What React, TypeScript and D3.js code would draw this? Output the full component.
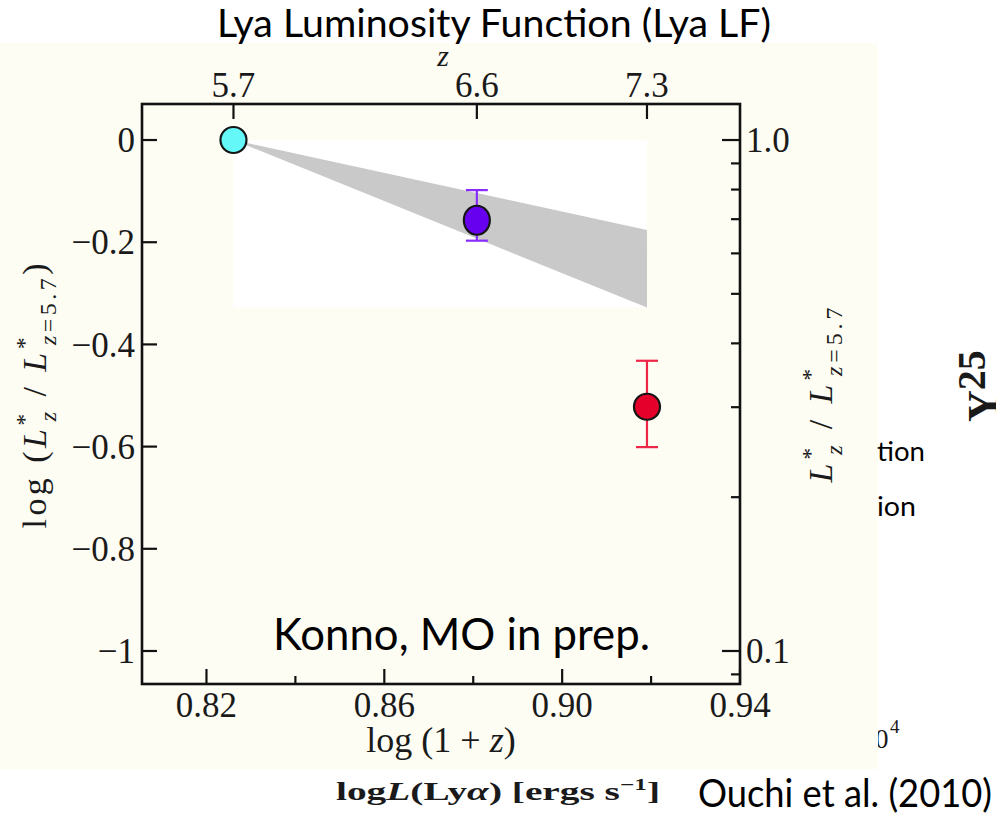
import React from 'react';
import * as d3 from 'd3';

const W = 996;
const H = 821;

// redshift ticks on the top axis
const zTickValues = [5.7, 6.6, 7.3];
// log(1+z) ticks on the bottom axis
const xMajorTicks = [0.82, 0.86, 0.9, 0.94];
const xMinorTicks = [0.84, 0.88, 0.92];
// log(L*/L*_5.7) ticks on the left axis
const yTicks = [0, -0.2, -0.4, -0.6, -0.8, -1];
// linear ratio ticks on the right axis
const ratioMajorTicks = [1.0, 0.1];
const ratioMinorTicks = [0.9, 0.8, 0.7, 0.6, 0.5, 0.4, 0.3, 0.2, 0.09];

// measured L* evolution
const pointZ = [5.7, 6.6, 7.3];
const pointLogRatio = [0, -0.157, -0.522];
const pointErrUp = [0, 0.059, 0.09];
const pointErrDown = [0, 0.04, 0.079];
const pointFill = ['#64f8f8', '#6800f0', '#e4002a'];
const pointErrColor = ['', '#8a2cff', '#ef2548'];

// allowed range of the L* evolution (shaded wedge)
const bandZ = [5.7, 7.3];
const bandUpper = [0, -0.176];
const bandLower = [0, -0.328];

const SERIF = '"Liberation Serif", "DejaVu Serif", serif';
const SANS = 'Lato, "Open Sans", "Noto Sans", sans-serif';
const INK = '#1a1a1a';

export default function App() {
  const x = d3.scaleLinear().domain([0.8055, 0.94]).range([142, 740]);
  const y = d3.scaleLinear().domain([0.0705, -1.0646]).range([104, 684]);
  const lz = (z: number) => Math.log10(1 + z);
  const yRatio = (r: number) => y(Math.log10(r));
  const [xL, xR] = x.range();
  const [yT, yB] = y.range();

  const idx = d3.range(bandZ.length);
  const wedge = d3
    .area<number>()
    .x((i) => x(lz(bandZ[i])))
    .y0((i) => y(bandLower[i]))
    .y1((i) => y(bandUpper[i]));

  const bgX0 = x(lz(bandZ[0]));
  const bgX1 = x(lz(bandZ[bandZ.length - 1]));
  const bgY0 = y(d3.max([...bandUpper, ...bandLower]) as number);
  const bgY1 = y(d3.min([...bandUpper, ...bandLower]) as number);

  const majorLen = 15;
  const minorLen = 8;

  return (
    <div style={{ position: 'absolute', left: 0, top: 0 }}>
      <svg width={W} height={H} viewBox={`0 0 ${W} ${H}`} style={{ display: 'block', background: '#ffffff' }}>
        {/* fragments of the neighbouring slide content */}
        <text x={875} y={748} fontFamily={SERIF} fontSize={27} fill={INK}>0</text>
        <text x={890} y={733} fontFamily={SERIF} fontSize={19} fill={INK}>4</text>

        {/* figure panel */}
        <rect x={0} y={43} width={878} height={726} fill="#fdfdf4" />

        <text x={877} y={461} fontFamily={SANS} fontSize={26} fill="#000" textLength={48} lengthAdjust="spacingAndGlyphs">tion</text>
        <text x={877} y={516} fontFamily={SANS} fontSize={26} fill="#000" textLength={39} lengthAdjust="spacingAndGlyphs">ion</text>
        <text transform="translate(998,422) rotate(-90)" fontFamily={SERIF} fontWeight="bold" fontSize={44} fill={INK}>
          Y<tspan fontSize={40} dy={-13}>25</tspan>
        </text>

        {/* title */}
        <text x={W / 2 - 4} y={37} textAnchor="middle" fontFamily={SANS} fontSize={38} fill="#000" textLength={554} lengthAdjust="spacingAndGlyphs">
          Lya Luminosity Function (Lya LF)
        </text>

        {/* plot background and allowed wedge */}
        <rect x={bgX0} y={bgY0} width={bgX1 - bgX0} height={bgY1 - bgY0} fill="#ffffff" />
        <path d={wedge(idx) || ''} fill="#c9c9c9" />

        {/* frame */}
        <rect x={xL} y={yT} width={xR - xL} height={yB - yT} fill="none" stroke="#111" strokeWidth={2.6} />

        {/* bottom axis */}
        {xMajorTicks.map((t) => (
          <g key={`xb${t}`}>
            <line x1={x(t)} x2={x(t)} y1={yB} y2={yB - majorLen} stroke="#111" strokeWidth={2.2} />
            <text x={x(t)} y={717} textAnchor="middle" fontFamily={SERIF} fontSize={35} fill={INK}>
              {t.toFixed(2)}
            </text>
          </g>
        ))}
        {xMinorTicks.map((t) => (
          <line key={`xm${t}`} x1={x(t)} x2={x(t)} y1={yB} y2={yB - minorLen} stroke="#111" strokeWidth={2.2} />
        ))}
        <text x={(xL + xR) / 2} y={752} textAnchor="middle" fontFamily={SERIF} fontSize={36} fill={INK}>
          log (1 + <tspan fontStyle="italic">z</tspan>)
        </text>

        {/* top axis: redshift */}
        {zTickValues.map((z) => (
          <g key={`zt${z}`}>
            <line x1={x(lz(z))} x2={x(lz(z))} y1={yT} y2={yT + majorLen} stroke="#111" strokeWidth={2.2} />
            <text x={x(lz(z))} y={97} textAnchor="middle" fontFamily={SERIF} fontSize={35} fill={INK}>
              {z.toFixed(1)}
            </text>
          </g>
        ))}
        <text x={443} y={66} textAnchor="middle" fontFamily={SERIF} fontStyle="italic" fontSize={30} fill={INK}>z</text>

        {/* left axis */}
        {yTicks.map((t) => (
          <g key={`yl${t}`}>
            <line x1={xL} x2={xL + majorLen} y1={y(t)} y2={y(t)} stroke="#111" strokeWidth={2.2} />
            <text x={135} y={y(t)} dy="0.35em" textAnchor="end" fontFamily={SERIF} fontSize={35} fill={INK}>
              {t === 0 ? '0' : t === -1 ? '\u22121' : '\u2212' + Math.abs(t).toFixed(1)}
            </text>
          </g>
        ))}
        <text transform="translate(46,396) rotate(-90)" textAnchor="middle" fontFamily={SERIF} fontSize={34} fill={INK} textLength={265} lengthAdjust="spacing">
          log (<tspan fontStyle="italic">L</tspan>
          <tspan fontSize={24} dy={-14}>*</tspan>
          <tspan fontSize={24} fontStyle="italic" dx={-11} dy={24}>z</tspan>
          <tspan dy={-10}> / </tspan>
          <tspan fontStyle="italic">L</tspan>
          <tspan fontSize={24} dy={-14}>*</tspan>
          <tspan fontSize={24} fontStyle="italic" dx={-11} dy={24}>z</tspan>
          <tspan fontSize={24}>=5.7</tspan>
          <tspan dy={-10}>)</tspan>
        </text>

        {/* right axis: L* ratio */}
        {ratioMajorTicks.map((r) => (
          <g key={`rr${r}`}>
            <line x1={xR} x2={xR - 18} y1={yRatio(r)} y2={yRatio(r)} stroke="#111" strokeWidth={2.2} />
            <text x={746} y={yRatio(r)} dy="0.35em" fontFamily={SERIF} fontSize={35} fill={INK}>
              {r.toFixed(1)}
            </text>
          </g>
        ))}
        {ratioMinorTicks.map((r) => (
          <line key={`rm${r}`} x1={xR} x2={xR - 9} y1={yRatio(r)} y2={yRatio(r)} stroke="#111" strokeWidth={2.2} />
        ))}
        <text transform="translate(832,395) rotate(-90)" textAnchor="middle" fontFamily={SERIF} fontSize={34} fill={INK} textLength={175} lengthAdjust="spacing">
          <tspan fontStyle="italic">L</tspan>
          <tspan fontSize={24} dy={-14}>*</tspan>
          <tspan fontSize={24} fontStyle="italic" dx={-11} dy={24}>z</tspan>
          <tspan dy={-10}> / </tspan>
          <tspan fontStyle="italic">L</tspan>
          <tspan fontSize={24} dy={-14}>*</tspan>
          <tspan fontSize={24} fontStyle="italic" dx={-11} dy={24}>z</tspan>
          <tspan fontSize={24}>=5.7</tspan>
        </text>

        {/* data points with error bars */}
        {pointZ.map((z, i) => {
          const cx = x(lz(z));
          const cy = y(pointLogRatio[i]);
          const hasErr = pointErrUp[i] > 0 || pointErrDown[i] > 0;
          const top = y(pointLogRatio[i] + pointErrUp[i]);
          const bot = y(pointLogRatio[i] - pointErrDown[i]);
          return (
            <g key={`p${z}`}>
              {hasErr && (
                <g stroke={pointErrColor[i]} strokeWidth={2.2}>
                  <line x1={cx} x2={cx} y1={top} y2={bot} />
                  <line x1={cx - 11} x2={cx + 11} y1={top} y2={top} />
                  <line x1={cx - 11} x2={cx + 11} y1={bot} y2={bot} />
                </g>
              )}
              <ellipse cx={cx} cy={cy} rx={13} ry={i === 1 ? 14.5 : 13} fill={pointFill[i]} stroke="#151515" strokeWidth={2.2} />
            </g>
          );
        })}

        {/* annotations */}
        <text x={273} y={650} fontFamily={SANS} fontSize={44} fill="#000" textLength={377} lengthAdjust="spacingAndGlyphs">
          Konno, MO in prep.
        </text>
        <text x={336} y={800} fontFamily={SERIF} fontWeight="bold" fontSize={25} fill={INK} textLength={324} lengthAdjust="spacingAndGlyphs">
          log<tspan fontStyle="italic">L</tspan>(Ly<tspan fontStyle="italic">α</tspan>) [ergs s<tspan fontSize={16} dy={-10}>−1</tspan><tspan dy={10}>]</tspan>
        </text>
        <text x={698} y={807} fontFamily={SANS} fontSize={39} fill="#000" textLength={294} lengthAdjust="spacingAndGlyphs">
          Ouchi et al. (2010)
        </text>
      </svg>
    </div>
  );
}
